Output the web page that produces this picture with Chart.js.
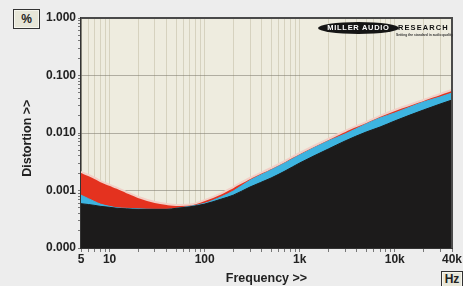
<!DOCTYPE html>
<html><head><meta charset="utf-8">
<script src="https://cdn.jsdelivr.net/npm/chart.js@4.4.1/dist/chart.umd.min.js"></script>
<style>
html,body{margin:0;padding:0;background:#ededed;}
#wrap{position:relative;width:463px;height:286px;overflow:hidden;background:#ededed;}
canvas{position:absolute;left:0;top:0;}
.box{position:absolute;border:1px solid #333;background:#e7e6d8;font:bold 12px "Liberation Sans",Arial,sans-serif;color:#222;text-align:center;box-shadow:inset 0 0 0 1px #f6f6ee;}
#logo{position:absolute;left:318px;top:22px;width:136px;height:18px;font-family:"Liberation Sans",Arial,sans-serif;}
#ell{position:absolute;left:0;top:0;width:81px;height:12px;background:#151515;border-radius:50%;color:#fff;font:bold 7.5px "Liberation Sans",Arial,sans-serif;letter-spacing:0.7px;line-height:12px;text-align:center;white-space:nowrap;}
#res{position:absolute;left:80px;top:0;font:bold 7.5px "Liberation Sans",Arial,sans-serif;letter-spacing:1.1px;line-height:12px;color:#111;}
#sub{position:absolute;left:78px;top:11px;font:bold 3.3px "Liberation Sans",Arial,sans-serif;color:#333;white-space:nowrap;}
</style></head>
<body><div id="wrap">
<canvas id="c" width="463" height="286"></canvas>
<div class="box" style="left:13px;top:9px;width:25px;height:18px;line-height:18px;">%</div>
<div class="box" style="left:441px;top:271px;width:20px;height:16px;line-height:15px;">Hz</div>
<div id="logo"><div id="ell">MILLER AUDIO</div><div id="res">RESEARCH</div><div id="sub">Setting the standard in audio quality</div></div>
</div>
<script>
// ---- data ----
const freqs = [5,6,7,8,10,12,15,20,30,40,50,70,100,150,200,300,500,700,1000,2000,3000,5000,7000,10000,20000,30000,40000];
const redSeries   = [0.00210,0.00186,0.00165,0.00146,0.00125,0.00111,0.00094,0.00077,0.00063,0.00058,0.00056,0.00057,0.00068,0.00089,0.00115,0.00165,0.00246,0.00326,0.00449,0.00787,0.01083,0.0155,0.0198,0.0251,0.0375,0.0477,0.0560];
const cyanSeries  = [0.00083,0.00072,0.00064,0.00058,0.00053,0.00050,0.00049,0.00048,0.00047,0.00047,0.00049,0.00053,0.00060,0.00078,0.00098,0.00150,0.00227,0.00301,0.00414,0.00726,0.00961,0.01434,0.01824,0.0223,0.0346,0.0423,0.0496];
const blackSeries = [0.00059,0.00057,0.00055,0.00053,0.00051,0.00049,0.00048,0.00047,0.00047,0.00047,0.00049,0.00052,0.00058,0.00071,0.00083,0.00115,0.00165,0.00218,0.00301,0.00527,0.00726,0.0104,0.0127,0.0162,0.0251,0.0319,0.0375];
const xTickValues = [5,10,100,1000,10000,40000];
const xTickLabels = ['5','10','100','1k','10k','40k'];
const yTickValues = [0.0001,0.001,0.01,0.1,1];
const yTickLabels = ['0.000','0.001','0.010','0.100','1.000'];

function pts(arr){ return freqs.map((f,i)=>({x:f,y:arr[i]})); }
function minorTicks(lo,hi){
  const out=[]; let d=Math.pow(10,Math.floor(Math.log10(lo)));
  while(d<=hi*1.0001){
    for(let m=1;m<10;m++){const v=+(m*d).toPrecision(6); if(v>=lo*0.9999&&v<=hi*1.0001) out.push(v);}
    d*=10;
  }
  if(!out.some(v=>Math.abs(v-hi)/hi<1e-6)) out.push(hi);
  return out;
}
function isIn(v,arr){ return arr.findIndex(a=>Math.abs(a-v)/a<1e-6); }

const bgPlugin = {
  id:'bg',
  beforeDraw(ch){
    const a=ch.chartArea, c=ch.ctx;
    c.save(); c.fillStyle='#eeecdf'; c.fillRect(a.left,a.top,a.right-a.left,a.bottom-a.top); c.restore();
  },
  afterDraw(ch){
    const a=ch.chartArea, c=ch.ctx;
    c.save(); c.strokeStyle='#4a4a4a'; c.lineWidth=2;
    c.beginPath(); c.moveTo(a.left,a.top); c.lineTo(a.right,a.top); c.lineTo(a.right,a.bottom); c.stroke(); c.restore();
  }
};

const font = {family:'"Liberation Sans", Arial, sans-serif', size:12, weight:'bold'};
const tfont = {family:'"Liberation Sans", Arial, sans-serif', size:12.5, weight:'bold'};

new Chart(document.getElementById('c'),{
  type:'line',
  data:{datasets:[
    {data:pts(blackSeries),borderColor:'#1c1b1b',backgroundColor:'#1c1b1b',fill:'start',borderWidth:1,pointRadius:0,cubicInterpolationMode:'monotone'},
    {data:pts(cyanSeries),borderColor:'#3db4e0',backgroundColor:'#3db4e0',fill:'start',borderWidth:1,pointRadius:0,cubicInterpolationMode:'monotone'},
    {data:pts(redSeries),borderColor:'#f2cfc6',backgroundColor:'#e4321f',fill:'start',borderWidth:2,pointRadius:0,cubicInterpolationMode:'monotone'}
  ]},
  options:{
    responsive:false,animation:false,
    layout:{padding:{left:20,right:11,top:18,bottom:0}},
    plugins:{legend:{display:false},tooltip:{enabled:false}},
    scales:{
      x:{type:'logarithmic',min:5,max:40000,z:1,
        afterBuildTicks(s){ s.ticks = minorTicks(5,40000).map(v=>({value:v})); },
        afterFit(s){ s.height=38; },
        ticks:{autoSkip:false,maxRotation:0,padding:0,color:'#222',font,
          callback(v){ const i=isIn(v,xTickValues); return i>=0?xTickLabels[i]:''; }},
        grid:{color:'rgba(175,168,140,0.38)',tickColor:'#777',tickLength:4,lineWidth:1},
        border:{color:'#333',width:1},
        title:{display:true,text:'Frequency >>',color:'#222',font:tfont,padding:{top:0,bottom:0}}
      },
      y:{type:'logarithmic',min:0.0001,max:1,z:1,
        afterBuildTicks(s){ s.ticks = minorTicks(0.0001,1).map(v=>({value:v})); },
        afterFit(s){ s.width=61; },
        ticks:{autoSkip:false,padding:2,color:'#222',font,
          callback(v){ const i=isIn(v,yTickValues); return i>=0?yTickLabels[i]:''; }},
        grid:{color(ctx){ return isIn(ctx.tick.value,yTickValues)>=0?'rgba(125,122,110,0.55)':'rgba(0,0,0,0)'; },
          tickColor:'#777',tickLength:3,lineWidth:1},
        border:{color:'#333',width:1.5},
        title:{display:true,text:'Distortion >>   ',color:'#222',font:tfont,padding:{top:0,bottom:0}}
      }
    }
  },
  plugins:[bgPlugin]
});
</script>
</body></html>
